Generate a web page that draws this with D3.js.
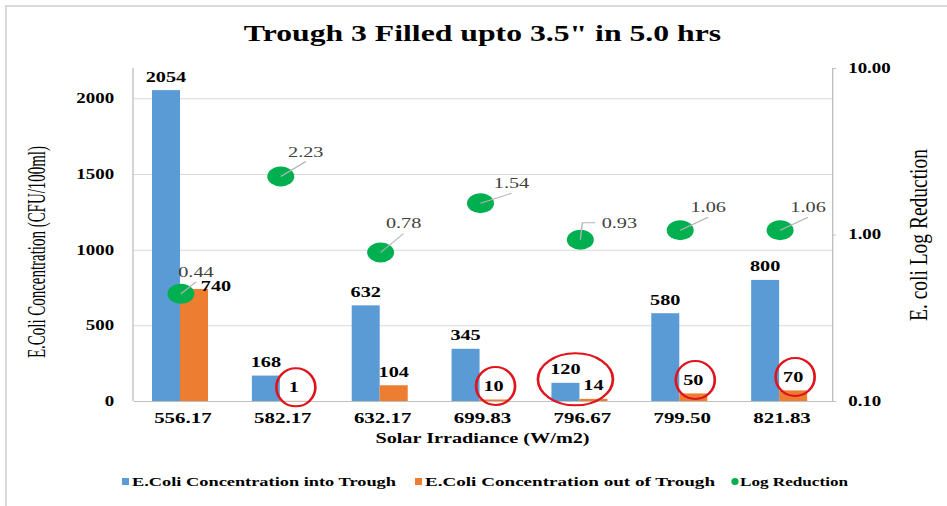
<!DOCTYPE html>
<html>
<head>
<meta charset="utf-8">
<script src="https://cdn.jsdelivr.net/npm/d3@7/dist/d3.min.js"></script>
<style>
  html, body { margin: 0; padding: 0; background: #fff; }
  svg { display: block; }
  text { font-family: "Liberation Serif", "Times New Roman", serif; }
</style>
</head>
<body>
<svg id="chart" width="947" height="506"></svg>
<script>
// ---- data ----
const categories   = ["556.17", "582.17", "632.17", "699.83", "796.67", "799.50", "821.83"];
const intoTrough   = [2054, 168, 632, 345, 120, 580, 800];
const outOfTrough  = [740, 1, 104, 10, 14, 50, 70];
const logReduction = [0.44, 2.23, 0.78, 1.54, 0.93, 1.06, 1.06];
const leftTicks    = [0, 500, 1000, 1500, 2000];
const rightTicks   = [0.1, 1, 10];
const seriesNames  = ["E.Coli Concentration into Trough", "E.Coli Concentration out of Trough", "Log Reduction"];
const circledOut   = [1, 3, 5, 6];   // single red rings around these out-of-trough labels
const circledPair  = 4;              // one ring around both labels of this category

// ---- layout ----
const W = 947, H = 506;
const S = 1.35;                 // horizontal stretch of the whole drawing
const nx = v => v / S;          // pixel x -> inner (unstretched) x
const colors = { into: "#5b9bd5", out: "#ed7d31", log: "#00b050", ring: "#e0141c" };

const svg = d3.select("#chart");
svg.append("path")
  .attr("d", `M6,${H} V6 H${W}`)
  .attr("fill", "none").attr("stroke", "#d9d9d9").attr("stroke-width", 2);

const g = svg.append("g").attr("transform", `scale(${S},1)`);

const plot = { l: nx(133), r: nx(832), t: 68, b: 401 };

const x0 = d3.scaleBand().domain(categories).range([plot.l, plot.r]);
const x1 = d3.scaleBand().domain(["into", "out"]).range([nx(19), nx(75)]);
const yL = d3.scaleLinear().domain([0, 2200]).range([plot.b, plot.t]);
const yR = d3.scaleLog().domain([0.1, 10]).range([plot.b, plot.t]);

// title
g.append("text")
  .attr("x", nx(482.5)).attr("y", 41)
  .attr("text-anchor", "middle")
  .attr("font-size", 23.5).attr("font-weight", "bold").attr("fill", "#000")
  .text("Trough  3 Filled upto 3.5\" in 5.0 hrs");

// gridlines
g.append("g")
  .attr("transform", `translate(${plot.l},0)`)
  .call(d3.axisLeft(yL).tickValues(leftTicks.filter(d => d > 0)).tickSize(-(plot.r - plot.l)).tickFormat(""))
  .call(a => a.select(".domain").remove())
  .call(a => a.selectAll("line").attr("stroke", "#d9d9d9").attr("stroke-width", 1));

// left axis
const axL = g.append("g")
  .attr("transform", `translate(${plot.l},0)`)
  .call(d3.axisLeft(yL).tickValues(leftTicks).tickFormat(d3.format("d")).tickSize(0).tickPadding(14));
axL.select(".domain").remove();
axL.selectAll("text")
  .attr("font-size", 14).attr("font-weight", "bold").attr("fill", "#000");

g.append("line")
  .attr("x1", plot.l).attr("x2", plot.l).attr("y1", plot.t).attr("y2", plot.b)
  .attr("stroke", "#bfbfbf").attr("stroke-width", 1);

// right axis
const axR = g.append("g")
  .attr("transform", `translate(${plot.r},0)`)
  .call(d3.axisRight(yR).tickValues(rightTicks).tickFormat(d3.format(".2f")).tickSize(3).tickPadding(9));
axR.select(".domain").attr("stroke", "#bfbfbf");
axR.selectAll("line").attr("stroke", "#bfbfbf");
axR.selectAll("text")
  .attr("font-size", 14).attr("font-weight", "bold").attr("fill", "#000");

// bottom axis
const axB = g.append("g")
  .attr("transform", `translate(0,${plot.b})`)
  .call(d3.axisBottom(x0).tickSize(0).tickPadding(11));
axB.select(".domain").attr("stroke", "#bfbfbf");
axB.selectAll("text")
  .attr("font-size", 15.5).attr("font-weight", "bold").attr("fill", "#000");

// axis titles
g.append("text")
  .attr("x", nx(482.5)).attr("y", 443)
  .attr("text-anchor", "middle")
  .attr("font-size", 15).attr("font-weight", "bold").attr("fill", "#000")
  .text("Solar Irradiance (W/m2)");

g.append("text")
  .attr("transform", `translate(${nx(45)},252) rotate(-90)`)
  .attr("text-anchor", "middle")
  .attr("font-size", 18).attr("fill", "#000")
  .attr("textLength", 212).attr("lengthAdjust", "spacingAndGlyphs")
  .text("E.Coli Concentration (CFU/100ml)");

g.append("text")
  .attr("transform", `translate(${nx(927)},235) rotate(-90)`)
  .attr("text-anchor", "middle")
  .attr("font-size", 18).attr("fill", "#000")
  .attr("textLength", 172).attr("lengthAdjust", "spacingAndGlyphs")
  .text("E. coli Log Reduction");

// bars
const rows = categories.map((c, i) => ({ c, i, into: intoTrough[i], out: outOfTrough[i], log: logReduction[i] }));
const barData = rows.flatMap(r => [
  { c: r.c, i: r.i, key: "into", v: r.into },
  { c: r.c, i: r.i, key: "out", v: r.out }
]);

g.append("g").selectAll("rect").data(barData).join("rect")
  .attr("x", d => x0(d.c) + x1(d.key))
  .attr("width", x1.bandwidth())
  .attr("y", d => yL(d.v))
  .attr("height", d => plot.b - yL(d.v))
  .attr("fill", d => colors[d.key]);

// bar value labels (the 740 label sits beside its bar)
const barLabelShift = d => (d.key === "out" && d.i === 0) ? { dx: nx(22), dy: 10.5 } : { dx: 0, dy: 0 };
const barLabelX = d => x0(d.c) + x1(d.key) + x1.bandwidth() / 2 + barLabelShift(d).dx;
const barLabelY = d => yL(d.v) - 8.5 + barLabelShift(d).dy;

g.append("g").selectAll("text").data(barData).join("text")
  .attr("x", barLabelX)
  .attr("y", barLabelY)
  .attr("text-anchor", "middle")
  .attr("font-size", 15).attr("font-weight", "bold").attr("fill", "#000")
  .text(d => d3.format("d")(d.v));

// log reduction markers
const dotX = r => x0(r.c) + x0.bandwidth() / 2 - nx(2);
g.append("g").selectAll("circle").data(rows).join("circle")
  .attr("cx", dotX).attr("cy", r => yR(r.log))
  .attr("r", 10)
  .attr("fill", colors.log);

// log labels with leader lines (offsets in pixels from the marker centre)
const logLabelOffset = [[15, -17], [25, -20], [23, -24], [31, -15], [39, -12], [28, -18], [28, -18]];
g.append("g").selectAll("path").data(rows).join("path")
  .attr("d", r => {
    const x = dotX(r), y = yR(r.log);
    const [dx, dy] = logLabelOffset[r.i];
    if (r.i === 4) {
      return `M${x},${y} L${x + nx(2)},${y - 17} L${x + nx(15)},${y - 17}`;
    }
    return `M${x},${y} L${x + nx(dx)},${y + dy + 5}`;
  })
  .attr("fill", "none").attr("stroke", "#b4b4b4").attr("stroke-width", 1);

g.append("g").selectAll("text").data(rows).join("text")
  .attr("x", r => dotX(r) + nx(logLabelOffset[r.i][0]))
  .attr("y", r => yR(r.log) + logLabelOffset[r.i][1])
  .attr("text-anchor", "middle")
  .attr("font-size", 15).attr("fill", "#404040")
  .text(r => d3.format(".2f")(r.log));

// red rings around the low out-of-trough counts
const outLabel = i => barData.find(d => d.i === i && d.key === "out");
const inLabel = i => barData.find(d => d.i === i && d.key === "into");
g.append("g").selectAll("ellipse").data(circledOut).join("ellipse")
  .attr("cx", i => barLabelX(outLabel(i)) + nx(2))
  .attr("cy", i => barLabelY(outLabel(i)) - 5)
  .attr("rx", nx(19.5)).attr("ry", 19)
  .attr("fill", "none").attr("stroke", colors.ring).attr("stroke-width", 2);

{
  const a = inLabel(circledPair), b = outLabel(circledPair);
  g.append("ellipse")
    .attr("cx", (barLabelX(a) + barLabelX(b)) / 2 - nx(4))
    .attr("cy", (barLabelY(a) + barLabelY(b)) / 2 - 5 + 2)
    .attr("rx", nx(37.5)).attr("ry", 26)
    .attr("fill", "none").attr("stroke", colors.ring).attr("stroke-width", 2);
}

// legend
const legend = g.append("g").attr("font-size", 13.5).attr("font-weight", "bold").attr("fill", "#000");
const legendItems = [
  { name: seriesNames[0], color: colors.into, shape: "rect", mx: 122, tx: 132, w: 264 },
  { name: seriesNames[1], color: colors.out, shape: "rect", mx: 415, tx: 425, w: 290 },
  { name: seriesNames[2], color: colors.log, shape: "dot", mx: 731, tx: 740, w: 108 }
];
legendItems.forEach(it => {
  if (it.shape === "rect") {
    legend.append("rect").attr("x", nx(it.mx)).attr("y", 478).attr("width", nx(7)).attr("height", 7).attr("fill", it.color);
  } else {
    legend.append("ellipse").attr("cx", nx(it.mx + 4)).attr("cy", 481.5).attr("rx", nx(3.6)).attr("ry", 3.6).attr("fill", it.color);
  }
  legend.append("text").attr("x", nx(it.tx)).attr("y", 486)
    .attr("textLength", nx(it.w)).attr("lengthAdjust", "spacingAndGlyphs")
    .text(it.name);
});
</script>
</body>
</html>
